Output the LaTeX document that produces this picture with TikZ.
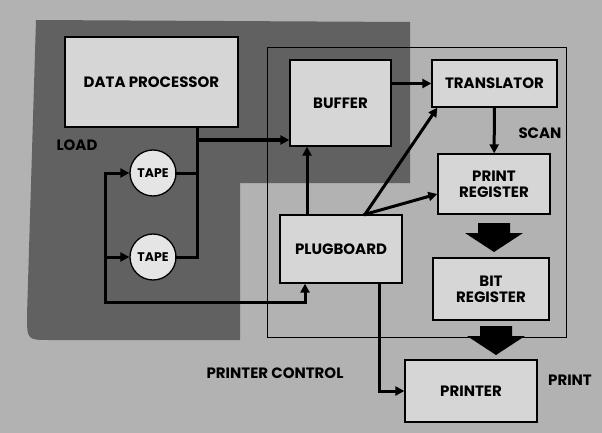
\documentclass[tikz,border=0pt]{standalone}
\usepackage{fontspec}
\setmainfont{Poppins}
\usetikzlibrary{arrows.meta}

\begin{document}
\begin{tikzpicture}[x=1pt, y=-1pt,
    unit/.style={draw, line width=1.3pt, fill=black!16, align=center, inner sep=0pt,
        font=\bfseries\fontsize{15}{16}\selectfont},
    tape/.style={draw, circle, line width=1.3pt, fill=black!10, minimum size=46pt, inner sep=0pt,
        font=\bfseries\fontsize{12.5}{13}\selectfont},
    wire/.style={line width=3pt, line cap=rect},
    flow/.style={wire, -{Triangle[length=9pt,width=9pt]}},
    areatext/.style={font=\bfseries\fontsize{15}{16}\selectfont}]

    % Background and shaded load area
    \fill[black!30] (0,0) rectangle (602,433);
    \useasboundingbox (0,0) rectangle (602,433);
    \fill[black!62] (36,20) -- (410,22) -- (410,183) -- (240,183) -- (240,340) -- (50,340)
        .. controls (27,340) .. (27,315) -- cycle;

    % Printer control frame
    \node[draw, line width=1pt, minimum width=299pt, minimum height=289pt] (ctrl) at (416.5,192.5) {};

    % Units
    \node[unit, minimum width=173pt, minimum height=90pt] (dp) at (151.5,82) {DATA PROCESSOR};
    \node[unit, minimum width=101pt, minimum height=86pt] (buffer) at (340.5,103) {BUFFER};
    \node[unit, minimum width=125pt, minimum height=47pt] (trans) at (494.5,83.5) {TRANSLATOR};
    \node[unit, minimum width=112pt, minimum height=60pt] (preg) at (494,184) {PRINT\\REGISTER};
    \node[unit, minimum width=116pt, minimum height=62pt] (breg) at (491,289) {BIT\\REGISTER};
    \node[unit, minimum width=122pt, minimum height=68pt] (plug) at (341,249) {PLUGBOARD};
    \node[unit, minimum width=132pt, minimum height=62pt] (printer) at (471,391) {PRINTER};

    % Tapes
    \node[tape] (tape1) at (153,173) {TAPE};
    \node[tape] (tape2) at (153,257) {TAPE};

    % Labels
    \node[areatext] (load) at (77,145) {LOAD};
    \node[areatext] (scan) at (540,133) {SCAN};
    \node[areatext] (print) at (570,380) {PRINT};
    \node[areatext] (pctl) at (275,373) {PRINTER CONTROL};

    % Junctions
    \coordinate (trunk) at (197,257);
    \coordinate (tbuf) at (197,140);
    \coordinate (loopT) at (105,173);
    \coordinate (loopB) at (105,302);
    \coordinate (plugin) at (305,302);

    % Arrows
    \draw[wire] (dp.south -| trunk) -- (trunk) -- (tape2.east);
    \draw[wire] (tape1.east) -- (tape1.east -| trunk);
    \draw[flow] (tbuf) -- (tbuf -| buffer.west);

    \draw[flow] (loopT) -- (tape1.west);
    \draw[flow] (loopT |- tape2.west) -- (tape2.west);
    \draw[flow] (loopT) -- (loopB) -- (plugin) -- (plugin |- plug.south);

    \draw[flow] ([xshift=-34pt]plug.north) -- ([xshift=-34pt]plug.north |- buffer.south);
    \draw[flow] ([xshift=24pt]plug.north) -- ([xshift=6pt]trans.south west);
    \draw[flow] ([xshift=24pt]plug.north) -- ([yshift=-10pt]preg.west);
    \draw[flow] ([xshift=38pt]plug.south) -- ([xshift=38pt]plug.south |- printer.west) -- (printer.west);

    \draw[flow] (buffer.east |- trans) -- (trans.west);
    \draw[flow] (trans) -- (preg);

    % Transfer arrows
    \fill (478,223) -- (510,223) -- (510,233) -- (523,233) -- (494,252) -- (465,233) -- (478,233) -- cycle;
    \fill (480,326) -- (512,326) -- (512,336) -- (525,336) -- (496,355) -- (467,336) -- (480,336) -- cycle;
\end{tikzpicture}
\end{document}
